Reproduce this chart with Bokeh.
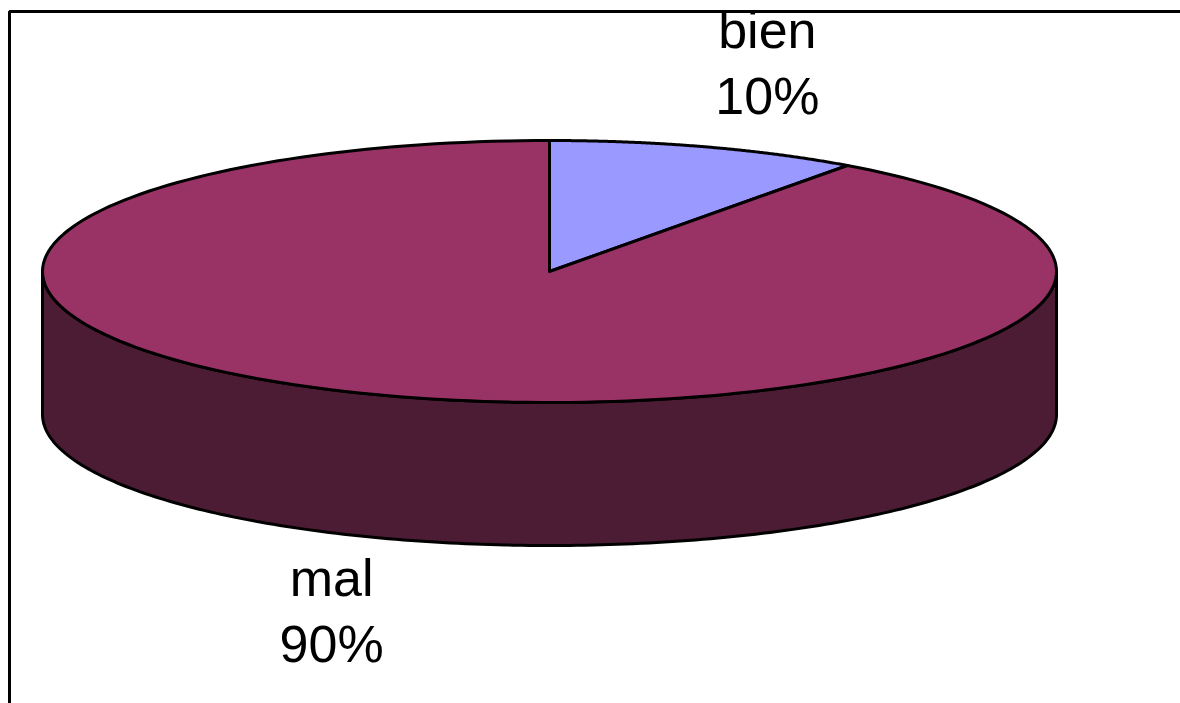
import numpy as np
from bokeh.plotting import figure
from bokeh.models import Range1d
from bokeh.core.properties import value
from bokeh.embed import file_html
from bokeh.resources import INLINE

# Survey result: share of answers per category
categories = ["bien", "mal"]
counts = [10, 90]
top_colors = ["#9999FF", "#993366"]
side_colors = ["#4D4D80", "#4C1C34"]

W, H = 1180, 703
CX, CY = 549, 271          # centre of the pie's top face (screen pixels)
RX, RY = 507, 131          # radii of the elliptical top face
DEPTH = 143                # thickness of the 3-D disc
LABEL_RX, LABEL_RY = 705, 196
LINE_GAP = 66
TEXT_SHIFT = -22           # baseline correction for the label glyphs

p = figure(width=W, height=H, output_backend="svg", toolbar_location=None,
           x_range=Range1d(0, W), y_range=Range1d(H, 0), min_border=0)
p.axis.visible = False
p.grid.visible = False
p.outline_line_color = None
p.background_fill_color = "white"
p.border_fill_color = "white"

# chart frame (open to the right and the bottom of the page)
p.line(x=[9, 9, W + 20], y=[H + 20, 11, 11], line_color="black", line_width=3)


def arc(t0, t1, n=200, dy=0.0):
    t = np.radians(np.linspace(t0, t1, n))
    return CX + RX * np.cos(t), CY - RY * np.sin(t) + dy


total = float(sum(counts))
fracs = [c / total for c in counts]

# slice angles, clockwise from 12 o'clock (degrees, decreasing)
starts, ends = [], []
a = 90.0
for f in fracs:
    starts.append(a)
    ends.append(a - 360.0 * f)
    a -= 360.0 * f

# front side walls: the part of each slice's rim facing the viewer (-180..0 deg)
wall_xs, wall_ys, wall_cols = [], [], []
for s, e, col in zip(starts, ends, side_colors):
    lo, hi = max(e, -180.0), min(s, 0.0)
    if hi <= lo:
        continue
    tx, ty = arc(hi, lo)
    bx, by = arc(lo, hi, dy=DEPTH)
    wall_xs.append(list(tx) + list(bx))
    wall_ys.append(list(ty) + list(by))
    wall_cols.append(col)
p.patches(wall_xs, wall_ys, fill_color=wall_cols, line_color="black",
          line_width=3, line_join="round")

# top faces of the slices
top_xs, top_ys = [], []
for s, e in zip(starts, ends):
    ax, ay = arc(s, e)
    top_xs.append([CX] + list(ax))
    top_ys.append([CY] + list(ay))
p.patches(top_xs, top_ys, fill_color=top_colors, line_color="black",
          line_width=3, line_join="round")

# category and percentage labels outside each slice
lx, ly1, ly2, names, pcts = [], [], [], [], []
for cat, f, s, e in zip(categories, fracs, starts, ends):
    m = np.radians((s + e) / 2.0)
    x = CX + LABEL_RX * np.cos(m)
    y = CY - LABEL_RY * np.sin(m) + TEXT_SHIFT
    if np.sin(m) < 0:
        y += DEPTH + 32
    lx.append(x)
    ly1.append(y - LINE_GAP / 2)
    ly2.append(y + LINE_GAP / 2)
    names.append(cat)
    pcts.append(f"{round(f * 100):d}%")

common = dict(text_font=value("Liberation Sans"), text_font_size="52px",
              text_color="black", text_align="center",
              text_baseline="alphabetic")
p.text(x=lx, y=ly1, text=names, **common)
p.text(x=lx, y=ly2, text=pcts, **common)

open("out.html", "w").write(file_html(p, INLINE))
